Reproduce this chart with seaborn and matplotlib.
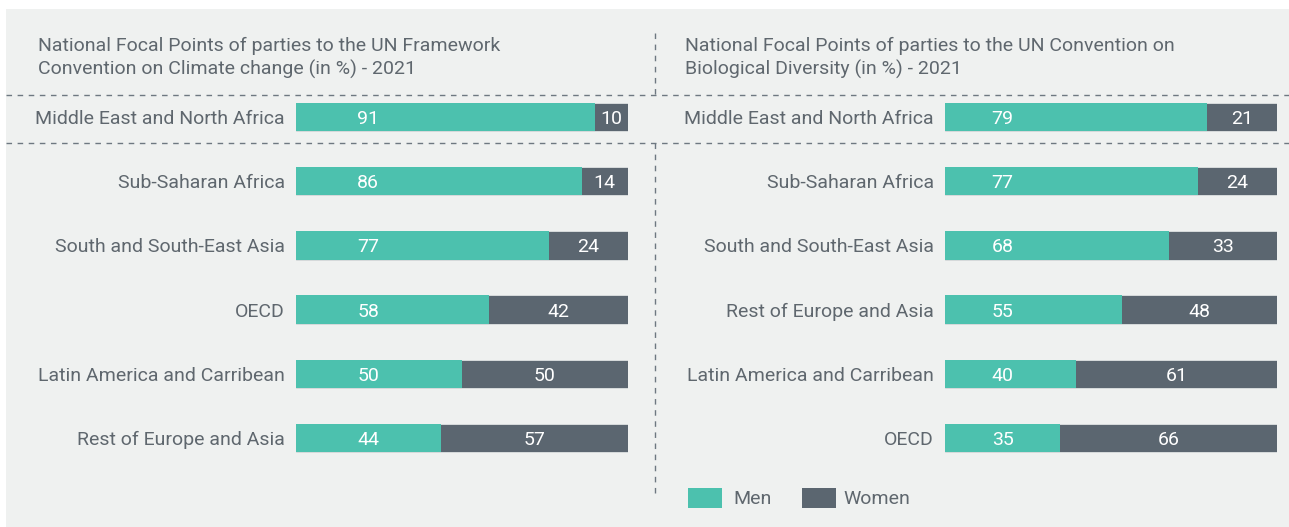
import matplotlib
matplotlib.use("Agg")
import matplotlib.pyplot as plt
from matplotlib.patches import Rectangle
from matplotlib.lines import Line2D
import seaborn as sns
import pandas as pd
import numpy as np

# ---- data ----
left_title = "National Focal Points of parties to the UN Framework\nConvention on Climate change (in %) - 2021"
left_cats = ["Middle East and North Africa", "Sub-Saharan Africa", "South and South-East Asia",
             "OECD", "Latin America and Carribean", "Rest of Europe and Asia"]
left_men = [91, 86, 77, 58, 50, 44]
left_women = [10, 14, 24, 42, 50, 57]

right_title = "National Focal Points of parties to the UN Convention on\nBiological Diversity (in %) - 2021"
right_cats = ["Middle East and North Africa", "Sub-Saharan Africa", "South and South-East Asia",
              "Rest of Europe and Asia", "Latin America and Carribean", "OECD"]
right_men = [79, 77, 68, 55, 40, 35]
right_women = [21, 24, 33, 48, 61, 66]

series_names = ["Men", "Women"]

# ---- style ----
W, H = 1289, 527
DPI = 100
BG = "#eff1f0"
MEN_C = "#4cc1ae"
WOMEN_C = "#5b6670"
TXT = "#5f676e"
LINE_C = "#6e7881"
FONT = "Roboto"

sns.set_theme(style="white")
plt.rcParams["font.family"] = [FONT, "DejaVu Sans"]

fig = plt.figure(figsize=(W / DPI, H / DPI), dpi=DPI, facecolor="white")


def fx(px):
    return px / W


def fy(py):
    return 1 - py / H


fig.patches.append(Rectangle((fx(6), fy(527)), fx(1289 - 6), fy(9) - fy(527),
                             transform=fig.transFigure, facecolor=BG, edgecolor="none", zorder=-10))

# dashed lines
dash = dict(color=LINE_C, lw=1.0, linestyle=(0, (4, 4)), transform=fig.transFigure, zorder=-5)
fig.lines.append(Line2D([fx(6), fx(1289)], [fy(95), fy(95)], **dash))
fig.lines.append(Line2D([fx(6), fx(1289)], [fy(143), fy(143)], **dash))
fig.lines.append(Line2D([fx(655), fx(655)], [fy(33), fy(95)], **dash))
fig.lines.append(Line2D([fx(655), fx(655)], [fy(143), fy(498)], **dash))

TFS = 14
# titles
fig.text(fx(38), fy(57.5), left_title, ha="left", va="center", fontsize=TFS,
         color=TXT, linespacing=1.32)
fig.text(fx(685), fy(57.5), right_title, ha="left", va="center", fontsize=TFS,
         color=TXT, linespacing=1.32)

row_top, row_bot = 85, 470


def panel(x0, x1, cats, men, women):
    ax = fig.add_axes([fx(x0), fy(row_bot), fx(x1) - fx(x0), fy(row_top) - fy(row_bot)])
    ax.patch.set_visible(False)
    men = np.array(men, float)
    women = np.array(women, float)
    tot = men + women
    men_n = men / tot * 100
    df = pd.DataFrame({"cat": cats, "total": 100.0, "men": men_n})
    sns.barplot(data=df, x="total", y="cat", color=WOMEN_C, width=0.44, ax=ax,
                saturation=1, edgecolor="#dfe3e3", linewidth=0.6, orient="h")
    sns.barplot(data=df, x="men", y="cat", color=MEN_C, width=0.44, ax=ax,
                saturation=1, edgecolor="none", linewidth=0, orient="h")
    ax.set_xlim(0, 100)
    ax.set_ylim(len(cats) - 0.5, -0.5)
    ax.set_xlabel("")
    ax.set_ylabel("")
    ax.set_xticks([])
    for s in ax.spines.values():
        s.set_visible(False)
    ax.tick_params(axis="y", length=0, pad=8, labelsize=TFS, labelcolor=TXT)
    men_x = men_n.min() / 2
    for i in range(len(cats)):
        ax.text(men_x, i + 0.03, f"{int(men[i])}", ha="center", va="center", color="white", fontsize=TFS)
        wx = (men_n[i] + 100) / 2
        ax.text(wx, i + 0.03, f"{int(women[i])}", ha="center", va="center", color="white", fontsize=TFS)
    return ax


panel(296, 628, left_cats, left_men, left_women)
panel(945, 1277, right_cats, right_men, right_women)

# legend
fig.patches.append(Rectangle((fx(688), fy(508)), fx(34), fy(488) - fy(508),
                             transform=fig.transFigure, facecolor=MEN_C, edgecolor="none"))
fig.text(fx(733), fy(499.5), series_names[0], ha="left", va="center", fontsize=TFS, color=TXT)
fig.patches.append(Rectangle((fx(802), fy(508)), fx(34), fy(488) - fy(508),
                             transform=fig.transFigure, facecolor=WOMEN_C, edgecolor="none"))
fig.text(fx(843), fy(499.5), series_names[1], ha="left", va="center", fontsize=TFS, color=TXT)

fig.savefig("out.png", dpi=DPI, facecolor="white")
